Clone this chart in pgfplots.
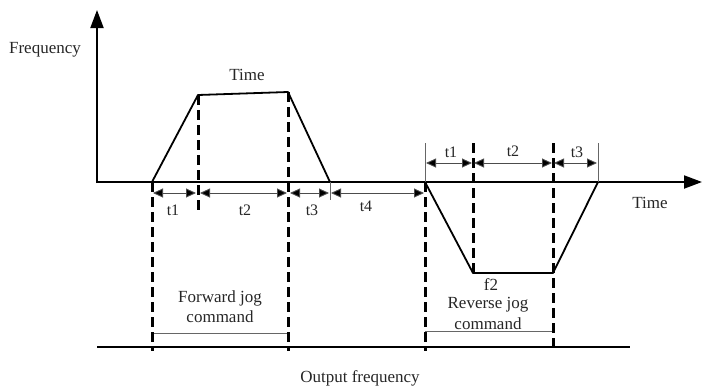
\documentclass[border=0pt]{standalone}
\usepackage{fontspec}
\setmainfont{Liberation Serif}
\usepackage{pgfplots}
\pgfplotsset{compat=1.18}
\usetikzlibrary{arrows.meta}
\tikzset{lbl/.style={font=\fontsize{17}{20}\selectfont, text=black!85, inner sep=0pt},
         tl/.style={font=\fontsize{16}{18}\selectfont, text=black!85, inner sep=0pt}}
\begin{document}
\begin{tikzpicture}
\begin{axis}[
  scale only axis, width=713pt, height=386pt,
  xmin=0, xmax=713, ymin=0, ymax=386, y dir=reverse,
  hide axis, clip=false,
]
\addplot[draw=none] coordinates {(0,0) (713,386)};
% axes
\addplot[line width=2pt, -{Triangle[length=18pt,width=13pt]}] coordinates {(97,183) (97,10)};
\addplot[line width=2pt, -{Triangle[length=18pt,width=13pt]}] coordinates {(96,182) (702,182)};
% forward trapezoid
\addplot[line width=1.8pt, line join=round] coordinates {(152,182) (198,95) (288,92) (330,182)};
% reverse trapezoid
\addplot[line width=1.8pt, line join=round] coordinates {(425,182) (473,273) (553,273) (598,182)};
% bottom line
\addplot[line width=2pt] coordinates {(97,347) (630,347)};
% thin lines
\addplot[line width=0.8pt, black!60] coordinates {(152,333) (288,333)};
\addplot[line width=0.8pt, black!60] coordinates {(425,331) (553,331)};
\addplot[line width=0.8pt, black!60] coordinates {(425,143) (425,182)};
\addplot[line width=0.8pt, black!60] coordinates {(598,143) (598,182)};
\addplot[line width=0.8pt, black!60] coordinates {(330,182) (330,200)};
% dashed verticals
\addplot[line width=3pt, dash pattern=on 10pt off 5pt] coordinates {(152,182) (152,351)};
\addplot[line width=3pt, dash pattern=on 10pt off 5pt] coordinates {(198,95) (198,214)};
\addplot[line width=3pt, dash pattern=on 10pt off 5pt] coordinates {(288,92) (288,351)};
\addplot[line width=3pt, dash pattern=on 10pt off 5pt] coordinates {(425,182) (425,351)};
\addplot[line width=3pt, dash pattern=on 10pt off 5pt] coordinates {(473,143) (473,275)};
\addplot[line width=3pt, dash pattern=on 10pt off 5pt] coordinates {(553,143) (553,351)};
% dimension arrows
\pgfplotsset{dim/.style={line width=0.9pt, black!70, {Triangle[length=10pt,width=9pt,fill=black]}-{Triangle[length=10pt,width=9pt,fill=black]}}}
\addplot[dim] coordinates {(153,193) (196,193)};
\addplot[dim] coordinates {(200,193) (287,193)};
\addplot[dim] coordinates {(290,193) (329,193)};
\addplot[dim] coordinates {(331,193) (424,193)};
\addplot[dim] coordinates {(426,163) (472,163)};
\addplot[dim] coordinates {(474,163) (552,163)};
\addplot[dim] coordinates {(554,163) (597,163)};
% labels
\node[lbl] at (axis cs:45,50) {Frequency};
\node[lbl] at (axis cs:247,75) {Time};
\node[tl] at (axis cs:173,210) {t1};
\node[tl] at (axis cs:245,210) {t2};
\node[tl] at (axis cs:312,210) {t3};
\node[tl] at (axis cs:366,206) {t4};
\node[tl] at (axis cs:451,152) {t1};
\node[tl] at (axis cs:513,151) {t2};
\node[tl] at (axis cs:577,152) {t3};
\node[lbl] at (axis cs:650,203) {Time};
\node[lbl] at (axis cs:491,285) {f2};
\node[lbl] at (axis cs:488,305) {Reverse jog};
\node[lbl] at (axis cs:488,324) {command};
\node[lbl] at (axis cs:220,298) {Forward jog};
\node[lbl] at (axis cs:220,317) {command};
\node[lbl] at (axis cs:360,378) {Output frequency};
\end{axis}
\end{tikzpicture}
\end{document}
